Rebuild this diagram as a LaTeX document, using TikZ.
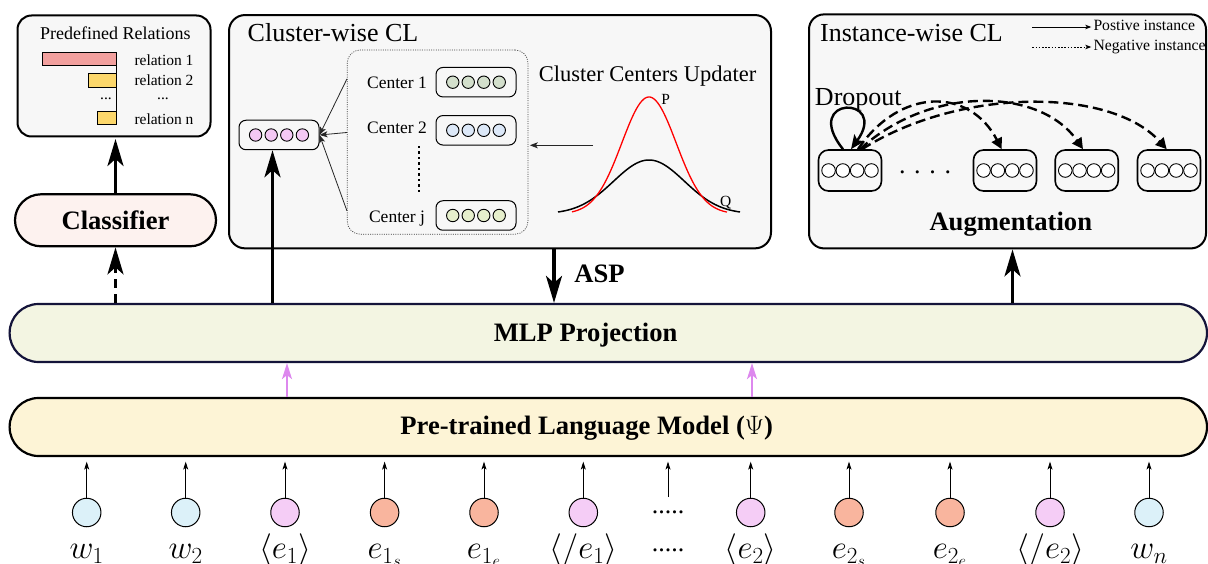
\RequirePackage{fix-cm}
\documentclass[tikz,border=0pt]{standalone}
\usepackage[no-math]{fontspec}
\setmainfont{Liberation Serif}
\usetikzlibrary{arrows.meta,calc}

\definecolor{panelfill}{HTML}{F7F7F7}
\definecolor{clsfill}{HTML}{FDF2EF}
\definecolor{barpink}{HTML}{F2A09E}
\definecolor{baryel}{HTML}{FCD76B}
\definecolor{cone}{HTML}{D3DFCC}
\definecolor{ctwo}{HTML}{DCE8F8}
\definecolor{cj}{HTML}{E6EFCC}
\definecolor{vpink}{HTML}{F4C8F4}
\definecolor{mlpfill}{HTML}{F3F5E2}
\definecolor{mlpdraw}{HTML}{14143A}
\definecolor{plmfill}{HTML}{FDF4D6}
\definecolor{tokw}{HTML}{DCF1F9}
\definecolor{toke}{HTML}{F5CDF6}
\definecolor{toks}{HTML}{F9B59E}
\definecolor{violetarr}{HTML}{DD88EE}

\tikzset{
  panel/.style={draw=black, line width=2pt, fill=panelfill, rounded corners=15pt, inner sep=0pt},
  pill/.style={draw=black, line width=2.2pt, inner sep=0pt},
  vbox/.style={draw=black, line width=1pt, rounded corners=7pt, minimum width=80pt, minimum height=29.5pt, inner sep=0pt},
  ibox/.style={draw=black, line width=1.6pt, rounded corners=10pt, minimum width=63pt, minimum height=41pt, inner sep=0pt},
  boldtxt/.style={font=\fontsize{26.6}{30}\selectfont\bfseries, inner sep=0pt},
  titletxt/.style={font=\fontsize{26}{30}\selectfont, inner sep=0pt},
  reltxt/.style={font=\fontsize{15.5}{18}\selectfont, inner sep=0pt, anchor=west},
  ctrtxt/.style={font=\fontsize{17.5}{20}\selectfont, inner sep=0pt, anchor=base},
  legtxt/.style={font=\fontsize{15.7}{18}\selectfont, inner sep=0pt, anchor=base west},
  token/.style={circle, draw=black, line width=1pt, minimum size=28.5pt, inner sep=0pt},
  toklab/.style={font=\fontsize{33}{40}\selectfont, inner sep=0pt, anchor=base},
  bigarrow/.style={line width=3.2pt, -{Stealth[length=27pt,width=16pt,inset=7pt]}},
  thinarrow/.style={line width=0.8pt, draw=black!85, -{Stealth[length=8pt,width=6pt,inset=2pt]}},
  tokarrow/.style={line width=0.9pt, -{Stealth[length=8pt,width=5pt,inset=2pt]}, shorten >=4.5pt},
  violetarrow/.style={line width=2pt, draw=violetarr, -{Stealth[length=16pt,width=10pt,inset=4pt]}},
  negarrow/.style={line width=2.4pt, dash pattern=on 10pt off 5pt, -{Triangle[length=11pt,width=11pt]}},
  legarrow/.style={line width=0.9pt, -{Stealth[length=6pt,width=4.5pt,inset=1.5pt]}, shorten >=2pt},
}

\newcommand\vecdots[4]{% node, colour, spacing, radius
  \foreach \d in {-1.5,-0.5,0.5,1.5}
    \draw[line width=0.9pt, fill=#2] ([xshift=\d*#3 pt]#1.center) circle[radius=#4pt];
}
\newcommand\tok[4]{% name, x, colour, label
  \node[token, fill=#3] (#1) at (#2,512.5) {};
  \node[toklab] (#1l) at (#2,558.5) {$#4$};
  \draw[tokarrow] (#1) -- (#1 |- plm.south);
}

\begin{document}
\begin{tikzpicture}[x=1pt,y=-1pt]
\useasboundingbox (0,0) rectangle (1208,564);

% ---------- Predefined relations ----------
\node[panel, fill=panelfill, minimum width=193pt, minimum height=121pt, rounded corners=14pt] (pred) at (114,76) {};
\node[font=\fontsize{18}{20}\selectfont, anchor=base, inner sep=0pt] (predtitle) at (115.3,39.4) {Predefined Relations};
\draw[line width=1pt, fill=barpink] (42.3,52.3) rectangle (116.7,66);
\draw[line width=1pt, fill=baryel] (88.3,74) rectangle (116.7,87.7);
\draw[line width=1pt, fill=baryel] (97.3,111.7) rectangle (116.7,125);
\draw[line width=1.3pt] (116.7,52.3) -- (116.7,125);
\node[reltxt] (r1) at (134.3,60) {relation 1};
\node[reltxt] (r2) at (134.3,80) {relation 2};
\node[reltxt, anchor=center] (rdots) at (163,99) {...};
\node[reltxt, anchor=center] (bdots) at (106,99) {...};
\node[reltxt] (rn) at (134.3,119) {relation n};

% ---------- Classifier ----------
\node[pill, fill=clsfill, minimum width=201pt, minimum height=52pt, rounded corners=26pt, boldtxt] (cls) at (115.5,220.3) {Classifier};
\draw[bigarrow, shorten >=1.5pt] (cls.north) -- (cls.north |- pred.south);

% ---------- Cluster-wise CL ----------
\node[panel, minimum width=542pt, minimum height=233.3pt, rounded corners=16pt] (cluster) at (500,131.7) {};
\node[titletxt, anchor=base west] (ctitle) at (247.5,42) {Cluster-wise CL};
\node[draw=black!75, line width=0.7pt, dash pattern=on 1pt off 1.3pt, rounded corners=13pt, minimum width=180.7pt, minimum height=184.3pt, inner sep=0pt] (ctrs) at (437.6,142.1) {};
\node[ctrtxt] (cl1) at (397,88.3) {Center 1};
\node[ctrtxt] (cl2) at (397,134) {Center 2};
\node[ctrtxt] (clj) at (397,222.7) {Center j};
\node[vbox] (cb1) at (476,82.2) {};
\node[vbox] (cb2) at (476,130.3) {};
\node[vbox] (cbj) at (476,215.5) {};
\node[vbox] (lv) at (279,135) {};
\vecdots{cb1}{cone}{15.5}{6.2}
\vecdots{cb2}{ctwo}{15.5}{6.2}
\vecdots{cbj}{cj}{15.5}{6.2}
\vecdots{lv}{vpink}{15.6}{6.2}
\draw[line width=2.2pt, dash pattern=on 2.2pt off 3.3pt] (419,146) -- (419,194);
\draw[thinarrow] ([yshift=63.1pt]ctrs.west) -- (lv.east);
\draw[thinarrow] ([yshift=9.6pt]ctrs.west) -- (lv.east);
\draw[thinarrow] ([yshift=-68.6pt]ctrs.west) -- (lv.east);

\node[font=\fontsize{22.5}{26}\selectfont, anchor=base, inner sep=0pt] (updater) at (647.5,81.7) {Cluster Centers Updater};
\coordinate (updsrc) at (593,145.3);
\draw[thinarrow, shorten >=1.5pt] (updsrc) -- (updsrc -| ctrs.east);
\draw[black, line width=1.5pt] plot[domain=558:740, samples=90, smooth] (\x, {214-54*exp(-((\x-649)^2)/2510)});
\draw[red, line width=1.3pt] plot[domain=572:727, samples=90, smooth] (\x, {214-117*exp(-((\x-649)^2)/1480)});
\node[font=\fontsize{15.5}{18}\selectfont, anchor=base, inner sep=0pt] (plab) at (665.7,105) {P};
\node[font=\fontsize{15.5}{18}\selectfont, anchor=base, inner sep=0pt] (qlab) at (725.7,206.5) {Q};

% ---------- Instance-wise CL ----------
\node[panel, minimum width=397pt, minimum height=234pt] (inst) at (1007.5,131.4) {};
\node[titletxt, anchor=base west] (ititle) at (820,42) {Instance-wise CL};
\node[legtxt] (lpos) at (1093.3,30.7) {Postive instance};
\node[legtxt] (lneg) at (1093.3,50.7) {Negative instance};
\coordinate (lps) at (1032.3,27);
\coordinate (lns) at (1032.3,47);
\draw[legarrow] (lps) -- (lps -| lpos.west);
\draw[legarrow, dash pattern=on 1.6pt off 1.6pt] (lns) -- (lns -| lneg.west);
\node[titletxt, anchor=base] (drop) at (858.3,105.3) {Dropout};
\node[ibox] (b1) at (850,170.5) {};
\node[ibox] (b2) at (1005,170.5) {};
\node[ibox] (b3) at (1086.7,170.5) {};
\node[ibox] (b4) at (1169,170.5) {};
\vecdots{b1}{white}{14.3}{6.8}
\vecdots{b2}{white}{14.3}{6.8}
\vecdots{b3}{white}{14.3}{6.8}
\vecdots{b4}{white}{14.3}{6.8}
\node[font=\fontsize{26}{30}\selectfont, anchor=base, inner sep=0pt] (idots) at (925,174) {.\,\,.\,\,.\,\,.};
\draw[line width=2.4pt, -{Stealth[length=14pt,width=12pt,inset=3pt]}]
  ([xshift=-7pt]b1.north) .. controls +(-43,-54) and +(39,-54) .. ([xshift=1pt]b1.north);
\draw[negarrow] ([xshift=8pt]b1.north) .. controls +(42,-62) and +(-32,-62) .. ([xshift=-3.3pt]b2.north);
\draw[negarrow] ([xshift=10pt]b1.north) .. controls +(70,-64) and +(-43,-62) .. ([xshift=-3.7pt]b3.north);
\draw[negarrow] ([xshift=12pt]b1.north) .. controls +(98,-62) and +(-56,-62) .. ([xshift=-2.3pt]b4.north);
\node[boldtxt, anchor=base] (aug) at (1010.8,230.3) {Augmentation};

% ---------- MLP and PLM ----------
\node[pill, draw=mlpdraw, fill=mlpfill, minimum width=1197.4pt, minimum height=58pt, rounded corners=29pt] (mlp) at (608.3,333) {};
\node[boldtxt, anchor=base] (mlpt) at (585.6,341.5) {MLP Projection};
\node[pill, fill=plmfill, minimum width=1197.4pt, minimum height=58pt, rounded corners=29pt] (plm) at (608.3,427) {};
\node[boldtxt, anchor=base] (plmt) at (586.7,434) {Pre-trained Language Model ($\Psi$)};

% arrows between layers
\draw[bigarrow, dash pattern=on 9pt off 6pt] (cls.south |- mlp.north) -- (cls.south);
\coordinate (bigtop) at ([xshift=-6.5pt]lv.south);
\draw[bigarrow] (bigtop |- mlp.north) -- (bigtop);
\coordinate (asptop) at ([xshift=54pt]cluster.south);
\draw[bigarrow] (asptop) -- (asptop |- mlp.north);
\node[boldtxt, anchor=base] (asp) at (599.5,282.5) {ASP};
\coordinate (augb) at ([xshift=5pt]inst.south);
\draw[bigarrow] (augb |- mlp.north) -- (augb);
\coordinate (v1) at ([xshift=-321.3pt]plm.north);
\coordinate (v2) at ([xshift=143.7pt]plm.north);
\draw[violetarrow] (v1) -- (v1 |- mlp.south);
\draw[violetarrow] (v2) -- (v2 |- mlp.south);

% ---------- tokens ----------
\tok{t1}{86.7}{tokw}{w_1}
\tok{t2}{185.7}{tokw}{w_2}
\tok{t3}{285}{toke}{\langle e_1\rangle}
\tok{t4}{384.6}{toks}{e_{1_s}}
\tok{t5}{484}{toks}{e_{1_e}}
\tok{t6}{583.3}{toke}{\langle /e_1\rangle}
\tok{t7}{750.7}{toke}{\langle e_2\rangle}
\tok{t8}{849}{toks}{e_{2_s}}
\tok{t9}{950}{toks}{e_{2_e}}
\tok{t10}{1050}{toke}{\langle /e_2\rangle}
\tok{t11}{1149}{tokw}{w_n}
\node[font=\fontsize{26}{30}\selectfont, inner sep=0pt] (tdots) at (668,512) {.....};
\node[font=\fontsize{26}{30}\selectfont, inner sep=0pt] (ldots) at (668,550) {.....};
\coordinate (tdtop) at (668,497);
\draw[tokarrow] (tdtop) -- (tdtop |- plm.south);
\end{tikzpicture}
\end{document}
